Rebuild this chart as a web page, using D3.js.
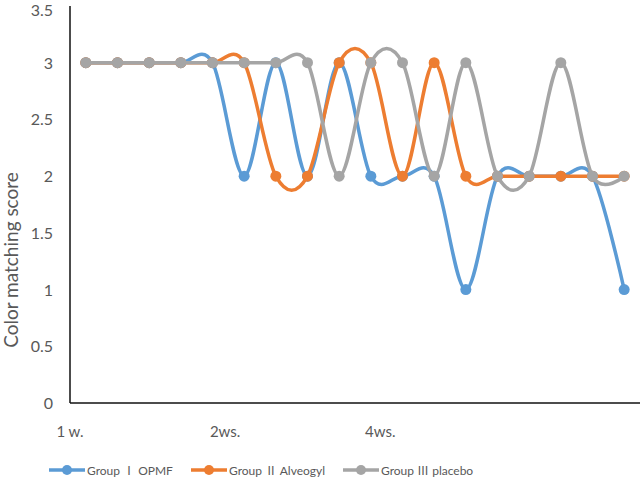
<!DOCTYPE html>
<html>
<head>
<meta charset="utf-8">
<script src="https://cdn.jsdelivr.net/npm/d3@7"></script>
<style>
  body { margin: 0; background: #fff; }
  text { font-family: Lato, "Noto Sans", "Noto Sans CJK SC", sans-serif; fill: #595959; }
</style>
</head>
<body>
<div id="container"></div>
<script>
// 18 observation points along the x axis
var categories = d3.range(18);

var groupI   = [3,3,3,3,3,2,3,2,3,2,2,2,1,2,2,2,2,1];
var groupII  = [3,3,3,3,3,3,2,2,3,3,2,3,2,2,2,2,2,2];
var groupIII = [3,3,3,3,3,3,3,3,2,3,3,2,3,2,2,3,2,2];

var seriesNames = ["Group \u2160 OPMF", "Group \u2161 Alveogyl", "Group \u2162 placebo"];
var seriesColors = ["#5B9BD5", "#ED7D31", "#A5A5A5"];

// x tick labels and where they sit, in category units
var xLabels = ["1 w.", "2ws.", "4ws."];
var xLabelPos = [-0.5, 4.4, 9.3];

var yTicks = [0, 0.5, 1, 1.5, 2, 2.5, 3, 3.5];

var width = 643, height = 477;
var svg = d3.select("#container").append("svg")
            .attr("width", width).attr("height", height);

var x = d3.scaleBand().domain(categories).range([70, 640]);
var xPos = function(i){ return x(0) + x.bandwidth()/2 + i * x.step(); };
var y = d3.scaleLinear().domain([0, 3.5]).range([403, 6]);

// axes
svg.append("line").attr("x1", 70).attr("x2", 70).attr("y1", y(3.5)).attr("y2", y(0))
   .attr("stroke", "#111").attr("stroke-width", 1.5);
svg.append("line").attr("x1", 70).attr("x2", 640).attr("y1", y(0)).attr("y2", y(0))
   .attr("stroke", "#111").attr("stroke-width", 1.5);

svg.append("g").selectAll("text").data(yTicks).enter().append("text")
   .attr("x", 53).attr("y", function(d){ return Math.max(y(d) + 6, 16); })
   .attr("text-anchor", "end").style("font-size", "16px")
   .text(function(d){ return d; });

svg.append("g").selectAll("text").data(xLabels).enter().append("text")
   .attr("x", function(d, i){ return xPos(xLabelPos[i]); })
   .attr("y", 437).attr("text-anchor", "middle").style("font-size", "15px")
   .text(function(d){ return d; });

svg.append("text")
   .attr("transform", "translate(18,260) rotate(-90)")
   .attr("text-anchor", "middle").style("font-size", "19px")
   .text("Color matching score");

// series
var allSeries = [groupI, groupII, groupIII];
var line = d3.line()
             .x(function(d, i){ return xPos(i); })
             .y(function(d){ return y(d); })
             .curve(d3.curveCardinal.tension(0));

allSeries.forEach(function(vals, s){
    var g = svg.append("g");
    g.append("path").attr("d", line(vals))
     .attr("fill", "none").attr("stroke", seriesColors[s]).attr("stroke-width", 3.5);
    g.selectAll("circle").data(vals).enter().append("circle")
     .attr("cx", function(d, i){ return xPos(i); })
     .attr("cy", function(d){ return y(d); })
     .attr("r", 5.5).attr("fill", seriesColors[s]);
});

// legend
var legendX = [49, 191, 343];
var legend = svg.append("g").selectAll("g").data(seriesNames).enter().append("g")
                .attr("transform", function(d, i){ return "translate(" + legendX[i] + ",470)"; });
legend.append("line").attr("x1", 0).attr("x2", 36).attr("y1", 0).attr("y2", 0)
      .attr("stroke", function(d, i){ return seriesColors[i]; }).attr("stroke-width", 3.5);
legend.append("circle").attr("cx", 18).attr("cy", 0).attr("r", 5)
      .attr("fill", function(d, i){ return seriesColors[i]; });
legend.append("text").attr("x", 38).attr("y", 4.5).style("font-size", "12px")
      .text(function(d){ return d; });
</script>
</body>
</html>
